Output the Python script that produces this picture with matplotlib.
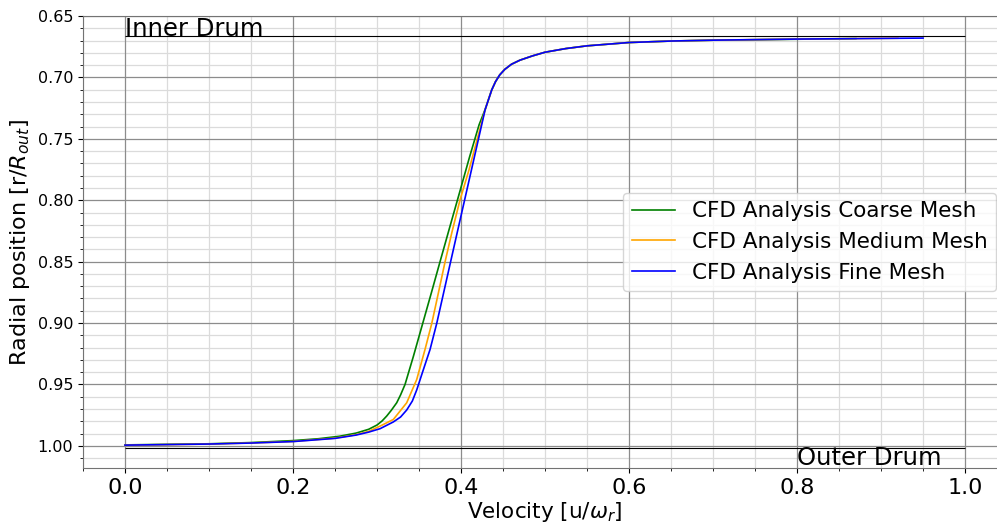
import matplotlib
matplotlib.use("Agg")
import matplotlib.pyplot as plt

# Velocity profiles across the gap
coarse_velocity = [0.0, 0.1, 0.15, 0.2, 0.23, 0.255, 0.275, 0.29, 0.3, 0.306, 0.3115, 0.317,
                   0.3234, 0.328, 0.3333, 0.3433, 0.3543, 0.3646, 0.375, 0.3868, 0.3958,
                   0.4102, 0.4215, 0.4286, 0.4365, 0.441, 0.446, 0.452, 0.46, 0.47, 0.485,
                   0.50, 0.525, 0.55, 0.60, 0.65, 0.70, 0.87]
coarse_radial = [0.9992, 0.9983, 0.9973, 0.9957, 0.9942, 0.9922, 0.9896, 0.9865, 0.9830,
                 0.9797, 0.9757, 0.9710, 0.9649, 0.9585, 0.95, 0.927, 0.9004, 0.8755, 0.85,
                 0.8213, 0.7996, 0.7646, 0.7385, 0.7262, 0.7102, 0.7035, 0.6980, 0.6935,
                 0.6893, 0.6860, 0.6825, 0.6795, 0.6765, 0.6743, 0.6716, 0.6704, 0.6697,
                 0.6684]

medium_velocity = [0.0, 0.1, 0.15, 0.2, 0.25, 0.275, 0.29, 0.3036, 0.3194, 0.3353, 0.3472,
                   0.3571, 0.3651, 0.373, 0.381, 0.3889, 0.3988, 0.4095, 0.4222, 0.4286,
                   0.4365, 0.441, 0.446, 0.452, 0.46, 0.47, 0.485, 0.50, 0.525, 0.55, 0.60,
                   0.65, 0.70, 0.80, 0.92]
medium_radial = [0.9994, 0.9985, 0.9976, 0.9964, 0.9937, 0.9909, 0.9882, 0.9839, 0.9785,
                 0.9649, 0.946, 0.9215, 0.9004, 0.8755, 0.85, 0.8267, 0.7996, 0.7752, 0.7427,
                 0.7264, 0.7102, 0.7035, 0.6980, 0.6935, 0.6893, 0.6860, 0.6825, 0.6795,
                 0.6765, 0.6743, 0.6716, 0.6704, 0.6697, 0.6688, 0.6681]

fine_velocity = [0.0, 0.1, 0.15, 0.2, 0.25, 0.275, 0.29, 0.3036, 0.3194, 0.328, 0.3353,
                 0.342, 0.3472, 0.3552, 0.3631, 0.371, 0.3792, 0.3876, 0.3953, 0.4043,
                 0.4124, 0.4232, 0.4286, 0.4365, 0.441, 0.446, 0.452, 0.46, 0.47, 0.485,
                 0.50, 0.525, 0.55, 0.60, 0.65, 0.70, 0.80, 0.95]
fine_radial = [0.9994, 0.9985, 0.9977, 0.9965, 0.9939, 0.9912, 0.9888, 0.9860, 0.9805,
               0.9765, 0.9708, 0.9635, 0.9545, 0.9378, 0.9215, 0.9004, 0.8755, 0.85, 0.8267,
               0.7996, 0.7752, 0.7427, 0.7264, 0.7102, 0.7035, 0.6980, 0.6935, 0.6893,
               0.6860, 0.6825, 0.6795, 0.6765, 0.6743, 0.6716, 0.6704, 0.6697, 0.6688,
               0.6680]

series_labels = ["CFD Analysis Coarse Mesh", "CFD Analysis Medium Mesh", "CFD Analysis Fine Mesh"]
series_colors = ["green", "orange", "blue"]

# Drum walls
inner_drum = 0.6667
outer_drum = 1.002


def plot_mesh_study():
    fig = plt.figure(figsize=(9.97, 5.24), dpi=100)
    # axes run past the right edge like the original (cropped) figure
    ax = fig.add_axes([0.0833, 0.1069, 0.9268, 0.8626])

    profiles = [(coarse_velocity, coarse_radial),
                (medium_velocity, medium_radial),
                (fine_velocity, fine_radial)]
    for (vel, rad), label, color in zip(profiles, series_labels, series_colors):
        ax.plot(vel, rad, color=color, linewidth=1.2, label=label, zorder=3)

    # drum walls
    ax.hlines(inner_drum, 0, 1, color="black", linewidth=0.8, zorder=2)
    ax.hlines(outer_drum, 0, 1, color="black", linewidth=0.8, zorder=2)
    ax.text(0, inner_drum, "Inner Drum", fontsize=17.5, va="baseline", ha="left")
    ax.text(0.8, 1.0155, "Outer Drum", fontsize=17.5, va="baseline", ha="left")

    ax.set_xlim(-0.05, 1.05)
    ax.set_ylim(1.018, 0.65)
    ax.set_xticks([0.0, 0.2, 0.4, 0.6, 0.8, 1.0])
    ax.set_yticks([0.65, 0.70, 0.75, 0.80, 0.85, 0.90, 0.95, 1.00])
    ax.minorticks_on()

    # minor grid from the axis, major grid drawn on top so it stays solid
    ax.grid(which="minor", color="0.86", linewidth=0.9)
    for x in ax.get_xticks():
        ax.axvline(x, color="0.55", linewidth=0.9, zorder=1.6)
    for y in ax.get_yticks():
        ax.axhline(y, color="0.55", linewidth=0.9, zorder=1.6)

    ax.tick_params(axis="x", which="major", labelsize=16)
    ax.tick_params(axis="y", which="major", labelsize=11.5)
    for spine in ax.spines.values():
        spine.set_color("0.45")

    ax.set_xlabel(r"Velocity [u/$\omega_r$]", fontsize=15.5, labelpad=2)
    ax.set_ylabel(r"Radial position [r/$R_{out}$]", fontsize=16)

    ax.legend(loc="center right", fontsize=15.5)

    fig.savefig("out.png", dpi=100)


plot_mesh_study()
